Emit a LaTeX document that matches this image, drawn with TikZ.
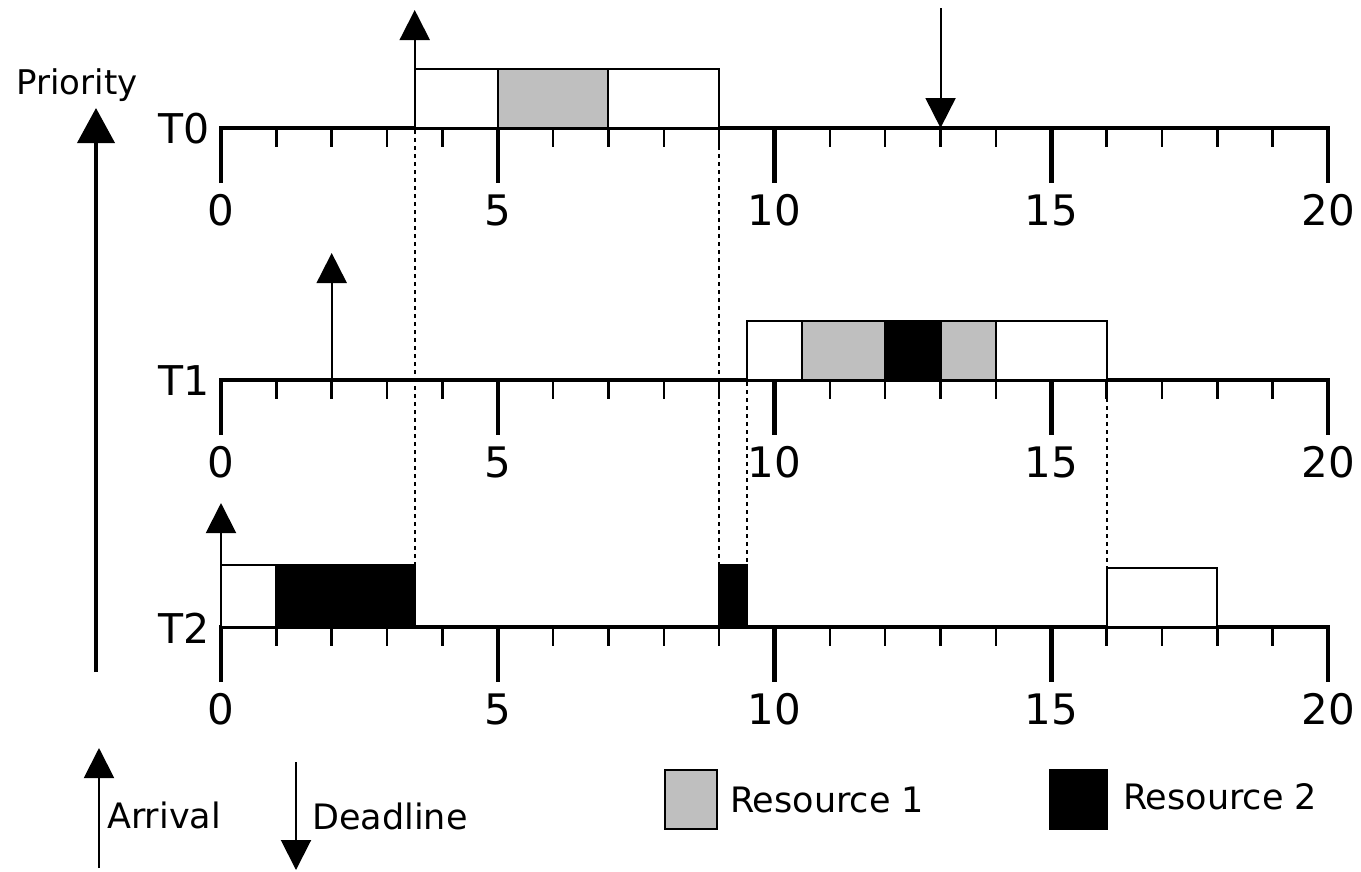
\documentclass[tikz,border=0pt]{standalone}
\usepackage{fontspec}
\setmainfont{DejaVu Sans}
\usetikzlibrary{arrows.meta}
\definecolor{resone}{gray}{0.75}
\tikzset{
  axisline/.style={line width=4.5pt, line join=miter, line cap=butt},
  minortick/.style={line width=2.5pt},
  slot/.style={draw=black, line width=2pt},
  idle/.style={slot, fill=white},
  resA/.style={slot, fill=resone},
  resB/.style={slot, fill=black},
  event/.style={line width=2pt, -{Triangle[width=30pt,length=30pt]}},
  guide/.style={line width=2pt, dash pattern=on 4pt off 4pt},
  ticklabel/.style={inner sep=0pt, font=\fontsize{42}{50}\selectfont},
  tasklabel/.style={inner sep=0pt, anchor=east, font=\fontsize{41}{50}\selectfont},
  legendtext/.style={inner sep=0pt, anchor=west, font=\fontsize{35}{42}\selectfont},
}
% one time line: #1 = vertical position, #2 = task name
\newcommand{\timeline}[2]{%
  \begin{scope}[shift={(221,#1)}, x=55.35pt]
    \draw[axisline] (0,55) -- (0,0) -- (20,0) -- (20,55);
    \foreach \k in {5,10,15} \draw[axisline] (\k,0) -- (\k,55);
    \foreach \k in {1,2,3,4,6,7,8,9,11,12,13,14,16,17,18,19}
      \draw[minortick] (\k,0) -- (\k,19);
    \foreach \k in {0,5,10,15,20}
      \node[ticklabel] (#2-n\k) at (\k,82) {\k};
    \node[tasklabel] (#2-name) at (-0.2,1) {#2};
  \end{scope}}
\begin{document}
\begin{tikzpicture}[x=1pt, y=-1pt]
  \useasboundingbox (0,0) rectangle (1361,871);

  % time lines of the three tasks
  \timeline{128}{T0}
  \timeline{380}{T1}
  \timeline{627}{T2}

  % task T0
  \begin{scope}[shift={(221,128)}, x=55.35pt]
    \draw[idle] (3.5,0) rectangle (5,-59);
    \draw[resA] (5,0) rectangle (7,-59);
    \draw[idle] (7,0) rectangle (9,-59);
    \coordinate (a0) at (3.5,0);
    \coordinate (a0tip) at (3.5,-118);
    \draw[event] (a0) -- (a0tip);
    \coordinate (d0top) at (13,-120);
    \coordinate (d0) at (13,0);
    \draw[event] (d0top) -- (d0);
  \end{scope}

  % task T1
  \begin{scope}[shift={(221,380)}, x=55.35pt]
    \draw[idle] (9.5,0) rectangle (10.5,-59);
    \draw[resA] (10.5,0) rectangle (12,-59);
    \draw[resB] (12,0) rectangle (13,-59);
    \draw[resA] (13,0) rectangle (14,-59);
    \draw[idle] (14,0) rectangle (16,-59);
    \coordinate (a1) at (2,0);
    \coordinate (a1tip) at (2,-127);
    \draw[event] (a1) -- (a1tip);
  \end{scope}

  % task T2
  \begin{scope}[shift={(221,627)}, x=55.35pt]
    \draw[idle] (0,0) rectangle (1,-62);
    \draw[resB] (1,0) rectangle (3.5,-62);
    \draw[resB] (9,0) rectangle (9.5,-62);
    \draw[idle] (16,0) rectangle (18,-59);
    \coordinate (a2) at (0,0);
    \coordinate (a2tip) at (0,-124);
    \draw[event] (a2) -- (a2tip);
  \end{scope}

  % preemption guides
  \coordinate (g1a) at ({221+55.35*3.5},130);
  \coordinate (g1b) at ({221+55.35*3.5},564);
  \coordinate (g2a) at ({221+55.35*9},130);
  \coordinate (g2b) at ({221+55.35*9},564);
  \coordinate (g3a) at ({221+55.35*9.5},382);
  \coordinate (g3b) at ({221+55.35*9.5},564);
  \coordinate (g4a) at ({221+55.35*16},382);
  \coordinate (g4b) at ({221+55.35*16},567);
  \draw[guide] (g1a) -- (g1b);
  \draw[guide] (g2a) -- (g2b);
  \draw[guide] (g3a) -- (g3b);
  \draw[guide] (g4a) -- (g4b);

  % priority axis
  \coordinate (p0) at (96,672);
  \coordinate (p1) at (96,108);
  \draw[line width=4pt, -{Triangle[width=37pt,length=35pt]}] (p0) -- (p1);
  \node[inner sep=0pt, font=\fontsize{34}{40}\selectfont] (prio) at (77,85) {Priority};

  % legend
  \coordinate (la0) at (99,868);
  \coordinate (la1) at (99,748);
  \draw[event] (la0) -- (la1);
  \node[legendtext] (arr) at (107,815) {Arrival};
  \coordinate (ld0) at (296,762);
  \coordinate (ld1) at (296,870);
  \draw[event] (ld0) -- (ld1);
  \node[legendtext] (dl) at (312,816) {Deadline};
  \draw[resA] (665,770) rectangle (717,829);
  \node[legendtext] (r1) at (730,800) {Resource 1};
  \draw[resB] (1050,770) rectangle (1107,829);
  \node[legendtext] (r2) at (1123,797) {Resource 2};
\end{tikzpicture}
\end{document}
